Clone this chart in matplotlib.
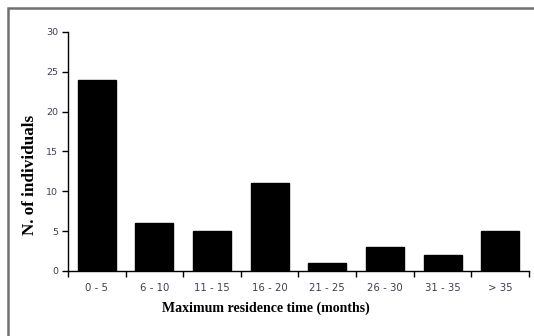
import matplotlib
matplotlib.use('Agg')
import matplotlib.pyplot as plt
from matplotlib.patches import Rectangle

categories = ['0 - 5', '6 - 10', '11 - 15', '16 - 20', '21 - 25', '26 - 30', '31 - 35', '> 35']
counts = [24, 6, 5, 11, 1, 3, 2, 5]

fig = plt.figure(figsize=(5.34, 3.36), dpi=100)
ax = fig.add_axes([0.1273, 0.1935, 0.8633, 0.7113])

x = range(len(categories))
ax.bar(x, counts, width=0.66, color='black', edgecolor='black')

ax.set_xlim(-0.5, len(categories) - 0.5)
ax.set_ylim(0, 30)
ax.set_yticks([0, 5, 10, 15, 20, 25, 30])

# categorie in mezzo, tacche sui bordi
ax.set_xticks(list(x))
ax.set_xticklabels(categories)
ax.set_xticks([i - 0.5 for i in range(len(categories) + 1)], minor=True)
ax.tick_params(axis='x', which='major', length=0, pad=9, labelsize=7.3, labelcolor='#3a4050')
ax.tick_params(axis='x', which='minor', length=4, width=1, direction='out')
ax.tick_params(axis='y', length=4, width=1, direction='out', labelsize=6.8, labelcolor='#3a4050', pad=3)

for s in ['top', 'right']:
    ax.spines[s].set_visible(False)
ax.spines['left'].set_linewidth(1)
ax.spines['bottom'].set_linewidth(1)

ax.set_xlabel('Maximum residence time (months)', fontfamily='Liberation Serif',
              fontweight='bold', fontsize=10)
ax.set_ylabel('N. of individuals', fontfamily='Liberation Serif',
              fontweight='bold', fontsize=12.3)
ax.xaxis.set_label_coords(0.43, -0.127)
ax.yaxis.set_label_coords(-0.066, 0.40)

# cornice grigia
fig.patches.append(Rectangle((8 / 534, -0.1), 1.2, (336 - 8) / 336 + 0.1,
                             transform=fig.transFigure, fill=False,
                             edgecolor='#707070', linewidth=1.8))

fig.savefig('out.png', dpi=100)
